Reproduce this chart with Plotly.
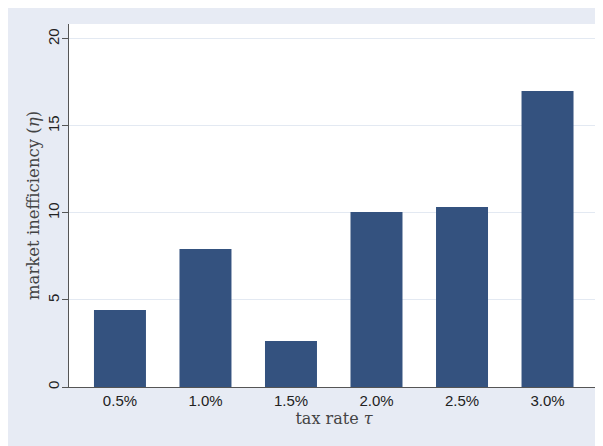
import plotly.graph_objects as go

categories = ["0.5%", "1.0%", "1.5%", "2.0%", "2.5%", "3.0%"]
values = [4.43, 7.93, 2.64, 10.06, 10.34, 17.01]
y_ticks = [0, 5, 10, 15, 20]

BAR = "#34527f"
OUTER = "#e7ebf4"
GRID = "#e3e9f2"
AXIS = "#555555"

fig = go.Figure()
fig.add_trace(go.Bar(
    x=list(range(len(categories))), y=values,
    marker=dict(color=BAR, line=dict(width=0)),
    width=0.608,
))

fig.update_layout(
    width=595, height=438,
    margin=dict(l=61, r=4, t=16, b=59, autoexpand=False),
    paper_bgcolor=OUTER,
    plot_bgcolor="white",
    showlegend=False,
    font=dict(family="Liberation Sans", size=15, color="#222222"),
)

fig.update_xaxes(
    range=[-0.596, 5.602],
    tickmode="array", tickvals=list(range(len(categories))), ticktext=categories,
    showgrid=False, zeroline=False,
    showline=True, linecolor=AXIS, linewidth=1.2,
    ticks="", ticklabelstandoff=0,
    tickfont=dict(family="Liberation Sans", size=15, color="#222222"),
    title=dict(text="tax rate <i>τ</i>", standoff=4,
               font=dict(family="DejaVu Serif", size=16, color="#444444")),
)

fig.update_yaxes(
    range=[0, 20.86],
    tickmode="array", tickvals=y_ticks, ticktext=[str(v) for v in y_ticks],
    tickangle=-90,
    showgrid=True, gridcolor=GRID, gridwidth=1,
    zeroline=False,
    showline=True, linecolor=AXIS, linewidth=1.2,
    ticks="outside", ticklen=6, tickcolor=AXIS, tickwidth=1.2,
    ticklabelstandoff=-3,
    tickfont=dict(family="Liberation Sans", size=15, color="#222222"),
    title=dict(text="market inefficiency (<i>η</i>)", standoff=1,
               font=dict(family="DejaVu Serif", size=16.5, color="#444444")),
)

fig.write_html("out.html")
